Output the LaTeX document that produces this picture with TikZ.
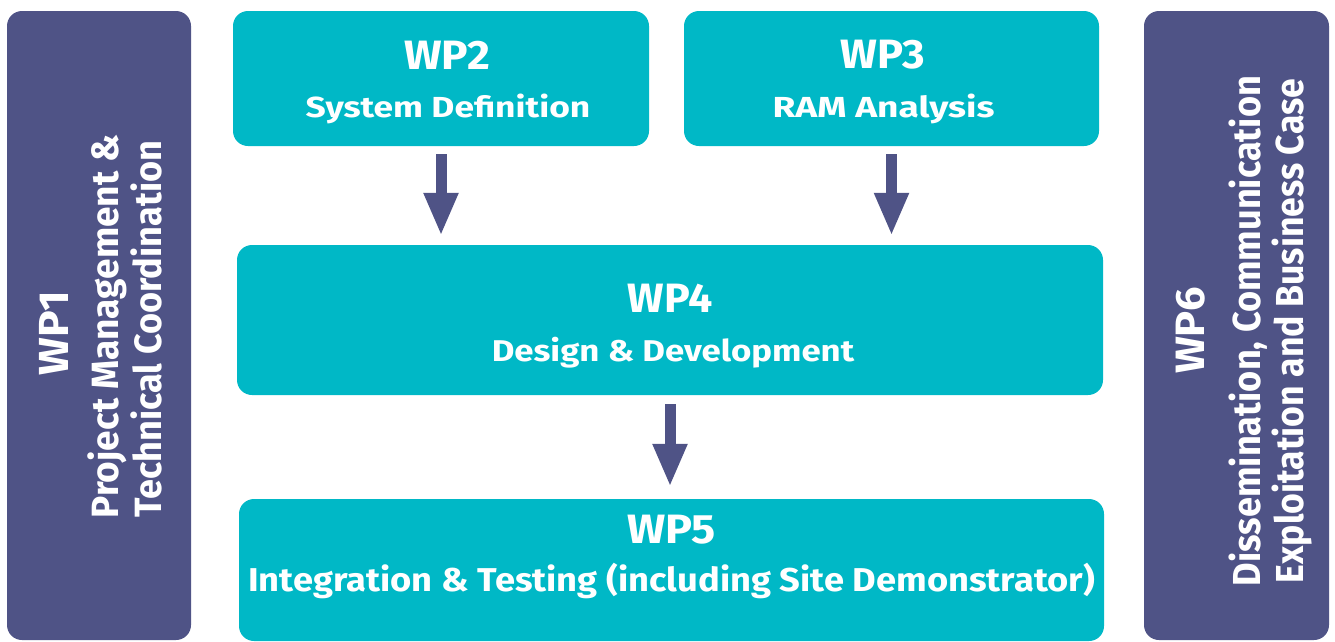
\documentclass[tikz,border=0pt]{standalone}
\usepackage{fontspec}
\usepackage{graphicx}
\setmainfont{Fira Sans}
\usetikzlibrary{arrows.meta}
\definecolor{wpteal}{RGB}{0,184,198}
\definecolor{wppurple}{RGB}{79,83,134}
\newcommand{\wpsx}[2]{\scalebox{#1}[1]{#2}}
\tikzset{
  tealbox/.style={fill=wpteal, draw=none, rounded corners=15pt, inner sep=0pt},
  purplebox/.style={fill=wppurple, draw=none, rounded corners=15pt, inner sep=0pt},
  wptitle/.style={text=white, anchor=base, inner sep=0pt, font=\bfseries\fontsize{41}{41}\selectfont},
  wpsub/.style={text=white, anchor=base, inner sep=0pt, font=\bfseries\fontsize{29}{29}\selectfont},
  flowarrow/.style={draw=wppurple, line width=11pt, -{Triangle[length=43pt,width=32pt]}}
}
\begin{document}
\begin{tikzpicture}[x=1pt,y=1pt]
\useasboundingbox (0,0) rectangle (1335,-641);
% boxes
\node[purplebox, minimum width=184pt, minimum height=629pt] (wp1) at (99,-325.5) {};
\node[tealbox, minimum width=416pt, minimum height=135pt] (wp2) at (441,-78.5) {};
\node[tealbox, minimum width=415pt, minimum height=135pt] (wp3) at (891.5,-78.5) {};
\node[tealbox, minimum width=866pt, minimum height=150pt] (wp4) at (670,-320) {};
\node[tealbox, minimum width=865pt, minimum height=142pt] (wp5) at (671.5,-570) {};
\node[purplebox, minimum width=185pt, minimum height=629pt] (wp6) at (1236.5,-325.5) {};
% texts
\node[wptitle] (wp2t) at (447,-69) {\wpsx{1.08}{WP2}};
\node[wpsub] (wp2s) at (448,-117) {\wpsx{1.22}{System Definition}};
\node[wptitle] (wp3t) at (882.5,-68) {\wpsx{1.06}{WP3}};
\node[wpsub] (wp3s) at (883.5,-117) {\wpsx{1.28}{RAM Analysis}};
\node[wptitle] (wp4t) at (670,-312) {\wpsx{1.05}{WP4}};
\node[wpsub, font=\bfseries\fontsize{30}{30}\selectfont] (wp4s) at (673,-361) {\wpsx{1.16}{Design \& Development}};
\node[wptitle] (wp5t) at (671.5,-543) {\wpsx{1.1}{WP5}};
\node[wpsub, font=\bfseries\fontsize{33}{33}\selectfont] (wp5s) at (671.5,-591) {\wpsx{1.10}{Integration \& Testing (including Site Demonstrator)}};
\node[wptitle, rotate=90, font=\bfseries\fontsize{42}{42}\selectfont] (wp1t) at (68,-333.5) {\wpsx{1.06}{WP1}};
\node[wpsub, rotate=90, font=\bfseries\fontsize{38}{38}\selectfont] (wp1a) at (118,-326.5) {\wpsx{0.975}{Project Management \&}};
\node[wpsub, rotate=90, font=\bfseries\fontsize{38}{38}\selectfont] (wp1b) at (161,-329) {\wpsx{0.95}{Technical Coordination}};
\node[wptitle, rotate=90, font=\bfseries\fontsize{41}{41}\selectfont] (wp6t) at (1204,-330.5) {\wpsx{1.06}{WP6}};
\node[wpsub, rotate=90, font=\bfseries\fontsize{39}{39}\selectfont] (wp6a) at (1260,-331) {\wpsx{0.927}{Dissemination, Communication}};
\node[wpsub, rotate=90, font=\bfseries\fontsize{39}{39}\selectfont] (wp6b) at (1303,-331) {\wpsx{0.913}{Exploitation and Business Case}};
% arrows
\draw[flowarrow, shorten <=8pt, shorten >=9pt] (wp2.south) -- (wp2.south |- wp4.north);
\draw[flowarrow, shorten <=8pt, shorten >=9pt] (wp3.south) -- (wp3.south |- wp4.north);
\draw[flowarrow, shorten <=9pt, shorten >=12pt] (wp4.south) -- (wp4.south |- wp5.north);
\end{tikzpicture}
\end{document}
